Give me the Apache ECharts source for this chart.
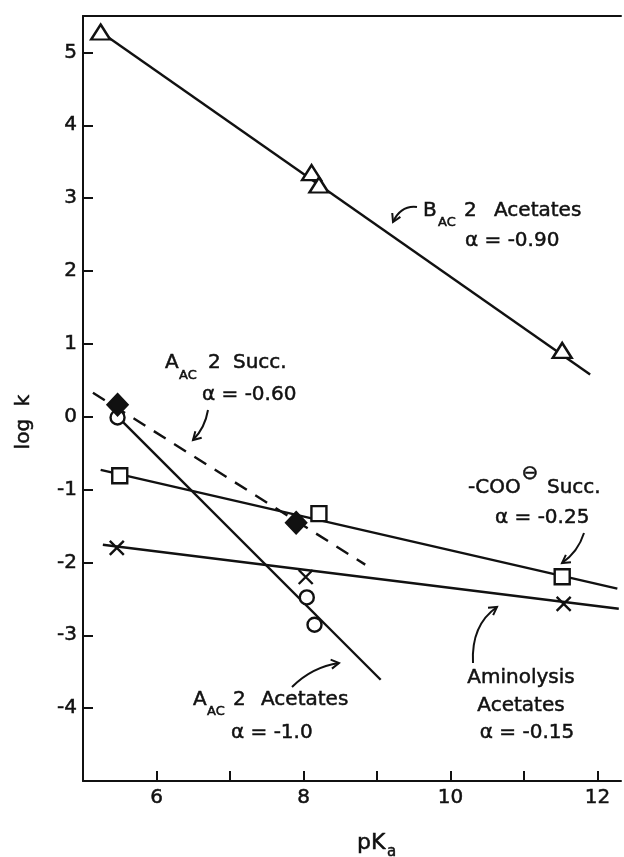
<!DOCTYPE html>
<html>
<head>
<meta charset="utf-8">
<script src="https://cdn.jsdelivr.net/npm/echarts@6/dist/echarts.min.js"></script>
<style>html,body{margin:0;padding:0;background:#fff;}#c{width:624px;height:857px;}</style>
</head>
<body>
<div id="c"></div>
<script>
// ---- data ----
const xTicks = [6, 8, 10, 12];
const xMinorTicks = [6, 7, 8, 9, 10, 11, 12];
const yTicks = [-4, -3, -2, -1, 0, 1, 2, 3, 4, 5];

// B_AC2 Acetates (triangles)
const bacX = [5.24, 8.11, 8.21, 11.52];
const bacY = [5.28, 3.35, 3.18, 0.91];
const bacFitX = [5.24, 11.90];
const bacFitY = [5.28, 0.58];

// A_AC2 Succ. (filled diamonds, dashed)
const aacSuccX = [5.47, 7.90];
const aacSuccY = [0.165, -1.455];
const aacSuccFitX = [5.135, 8.84];
const aacSuccFitY = [0.33, -2.03];

// A_AC2 Acetates (circles)
const aacAcX = [5.47, 8.045, 8.15];
const aacAcY = [-0.01, -2.48, -2.855];
const aacAcFitX = [5.47, 9.05];
const aacAcFitY = [0.0, -3.61];

// -COO- Succ. (squares)
const cooX = [5.50, 8.21, 11.52];
const cooY = [-0.81, -1.33, -2.196];
const cooFitX = [5.24, 12.27];
const cooFitY = [-0.73, -2.36];

// Aminolysis Acetates (crosses)
const amiX = [5.46, 8.03, 11.54];
const amiY = [-1.80, -2.20, -2.57];
const amiFitX = [5.27, 12.29];
const amiFitY = [-1.757, -2.635];

// ---- chart ----
const INK = '#111';
const FONT = "'DejaVu Sans', sans-serif";
const LW = 2.4;
const zip = (a, b) => a.map((v, i) => [v, b[i]]);

const chart = echarts.init(document.getElementById('c'), null, {renderer: 'canvas'});

function fitLine(xs, ys, dashed) {
  return {
    type: 'line', data: zip(xs, ys), symbol: 'none', silent: true, z: 2,
    lineStyle: {color: INK, width: LW, type: dashed ? [14, 10] : 'solid'},
    animation: false
  };
}
function pts(xs, ys, symbol, size, filled) {
  return {
    type: 'scatter', data: zip(xs, ys), symbol: symbol, symbolSize: size, z: 5,
    itemStyle: {color: filled === 'fill' ? INK : (filled === 'none' ? 'none' : '#fff'),
                borderColor: INK, borderWidth: LW, opacity: 1},
    animation: false
  };
}

function txt(x, y, s, size, align) {
  return {type: 'text', x: x, y: y, z: 100,
    style: {text: s, font: size + 'px ' + FONT, fill: INK, stroke: INK, lineWidth: 0.5,
            align: align || 'left', verticalAlign: 'middle',
            textAlign: align || 'left', textVerticalAlign: 'middle'}};
}
function arrow(tail, ctrl, tip) {
  const dx = tip[0] - ctrl[0], dy = tip[1] - ctrl[1];
  const L = Math.hypot(dx, dy); const ux = dx / L, uy = dy / L;
  const len = 9, a = 30 * Math.PI / 180;
  const b1 = [tip[0] - len * (ux * Math.cos(a) - uy * Math.sin(a)), tip[1] - len * (uy * Math.cos(a) + ux * Math.sin(a))];
  const b2 = [tip[0] - len * (ux * Math.cos(a) + uy * Math.sin(a)), tip[1] - len * (uy * Math.cos(a) - ux * Math.sin(a))];
  return [
    {type: 'bezierCurve', z: 100, shape: {x1: tail[0], y1: tail[1], x2: tip[0], y2: tip[1], cpx1: ctrl[0], cpy1: ctrl[1]},
     style: {stroke: INK, lineWidth: 2, fill: 'none'}},
    {type: 'polyline', z: 100, shape: {points: [b1, tip, b2]}, style: {stroke: INK, lineWidth: 2, fill: 'none'}}
  ];
}

const graphics = [].concat(
  // B_AC2 Acetates
  txt(423, 211, 'B', 20), txt(438, 223, 'AC', 13), txt(464, 211, '2', 20), txt(494, 211, 'Acetates', 20),
  txt(465, 241, 'α = -0.90', 20),
  arrow([417, 207], [401, 205], [393, 222]),
  // A_AC2 Succ.
  txt(165, 363, 'A', 20), txt(179, 376, 'AC', 13), txt(208, 363, '2', 20), txt(233, 363, 'Succ.', 20),
  txt(202, 395, 'α = -0.60', 20),
  arrow([208, 410], [205, 428], [193, 440]),
  // -COO Succ.
  txt(468, 488, '-COO', 20), txt(530, 474, '⊖', 20, 'center'), txt(547, 488, 'Succ.', 20),
  txt(495, 518, 'α = -0.25', 20),
  arrow([584, 533], [578, 552], [562, 563]),
  // Aminolysis Acetates
  txt(521, 678, 'Aminolysis', 20, 'center'), txt(521, 706, 'Acetates', 20, 'center'),
  txt(527, 733, 'α = -0.15', 20, 'center'),
  arrow([473, 663], [471, 625], [497, 607]),
  // A_AC2 Acetates
  txt(193, 700, 'A', 20), txt(207, 712, 'AC', 13), txt(233, 700, '2', 20), txt(261, 700, 'Acetates', 20),
  txt(231, 733, 'α = -1.0', 20),
  arrow([292, 687], [312, 667], [339, 663]),
  // axis names
  {type: 'text', x: 24, y: 422, rotation: Math.PI / 2, z: 100,
   style: {text: 'log  k', font: '20px ' + FONT, fill: INK, stroke: INK, lineWidth: 0.5,
           align: 'center', verticalAlign: 'middle', textAlign: 'center', textVerticalAlign: 'middle'}},
  txt(357, 843, 'pK', 22), txt(387, 852, 'a', 15)
);

const axisLineStyle = {show: true, onZero: false, lineStyle: {color: INK, width: 2}};

chart.setOption({
  animation: false,
  backgroundColor: '#fff',
  grid: {left: 83, right: 0, top: 16, bottom: 76, containLabel: false},
  xAxis: [
    {type: 'value', min: 5, max: 12.32, interval: 1, position: 'bottom',
      axisLine: axisLineStyle,
      axisTick: {show: true, inside: true, length: 10, customValues: xMinorTicks, lineStyle: {color: INK, width: 2}},
      splitLine: {show: false},
      axisLabel: {margin: 7, color: INK, fontSize: 20, fontFamily: FONT, textBorderColor: INK, textBorderWidth: 0.5,
        formatter: v => xTicks.indexOf(v) >= 0 ? String(v) : ''}},
    {type: 'value', min: 5, max: 12.32, interval: 1, position: 'top',
      axisLine: axisLineStyle,
      axisTick: {show: false}, axisLabel: {show: false}, splitLine: {show: false}}
  ],
  yAxis: {type: 'value', min: -5, max: 5.5, interval: 1,
    axisLine: axisLineStyle,
    axisTick: {show: true, inside: true, length: 10, customValues: yTicks, lineStyle: {color: INK, width: 2}},
    splitLine: {show: false},
    axisLabel: {margin: 6, color: INK, fontSize: 20, fontFamily: FONT, textBorderColor: INK, textBorderWidth: 0.5,
      formatter: v => yTicks.indexOf(v) >= 0 ? String(v) : ''}},
  series: [
    fitLine(bacFitX, bacFitY, false),
    fitLine(aacSuccFitX, aacSuccFitY, true),
    fitLine(aacAcFitX, aacAcFitY, false),
    fitLine(cooFitX, cooFitY, false),
    fitLine(amiFitX, amiFitY, false),
    pts(bacX, bacY, 'triangle', [19, 15], 'white'),
    pts(aacAcX, aacAcY, 'circle', 14, 'white'),
    pts(cooX, cooY, 'rect', 15, 'white'),
    pts(amiX, amiY, 'path://M0,0L10,10M10,0L0,10', [14, 14], 'none'),
    pts(aacSuccX, aacSuccY, 'diamond', [20, 21], 'fill')
  ],
  graphic: graphics
});
</script>
</body>
</html>
